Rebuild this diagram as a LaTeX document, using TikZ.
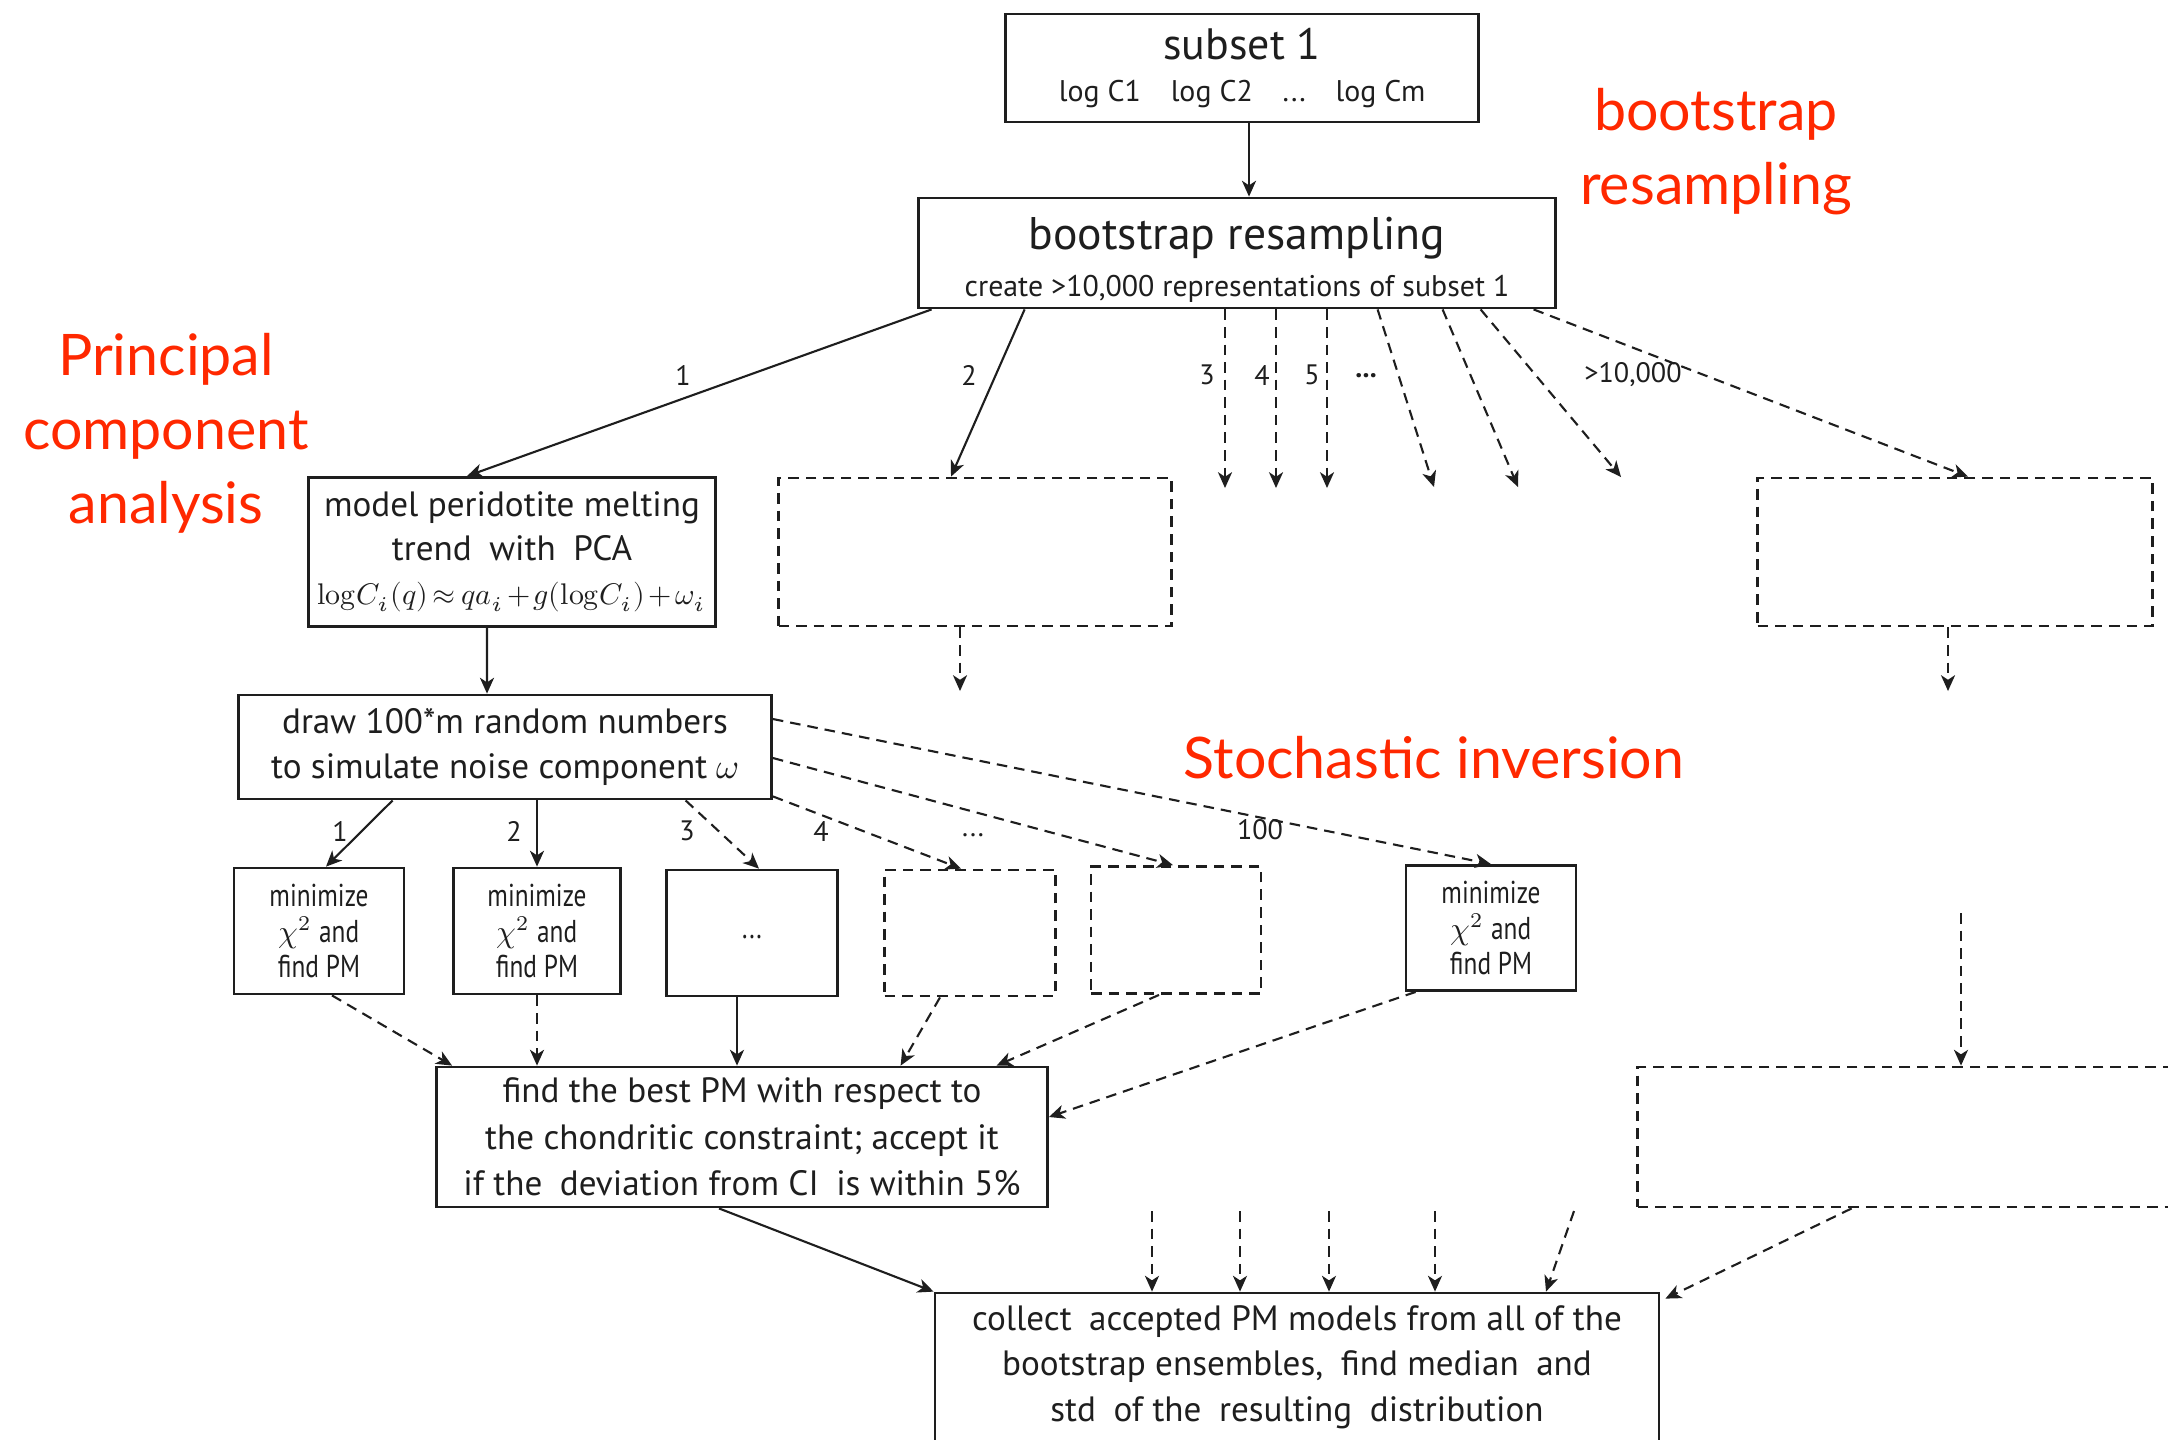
\documentclass[tikz,border=0pt]{standalone}
\usepackage{fontspec}
\usepackage{unicode-math}
\setmainfont{PT Sans}
\newfontfamily\narrowfont{PT Sans}[FakeStretch=0.8]
\newfontfamily\redfont{Lato}
\usetikzlibrary{arrows.meta}
\definecolor{ink}{RGB}{30,30,30}
\definecolor{labelred}{RGB}{255,40,0}

\begin{document}
\begin{tikzpicture}[
        box/.style     = {rectangle, draw = ink, line width = 0.8pt, text = ink, align = center, inner sep = 0pt},
        ghost/.style   = {box, dash pattern = on 3pt off 2pt},
        minbox/.style  = {box, font = \narrowfont\fontsize{9}{10}\selectfont, minimum width = 1.70cm, minimum height = 1.26cm},
        arr/.style     = {-{Stealth[length = 4.5pt, width = 4pt, inset = 1.3pt]}, line width = 0.6pt, draw = ink},
        darr/.style    = {arr, dash pattern = on 3pt off 2pt},
        num/.style     = {text = ink, inner sep = 0pt, font = \fontsize{8}{9}\selectfont},
        areaname/.style = {text = labelred, align = center, inner sep = 0pt, font = \redfont\fontsize{16.3}{21}\selectfont}
    ]
        \useasboundingbox (0,0) rectangle (21.68,-14.39);
        \clip (0,0) rectangle (21.68,-14.39);
        % ---------------------------------------------------------------------------
        % Draw nodes
        % ---------------------------------------------------------------------------
        \node[  box,
                font = \fontsize{8.5}{12}\selectfont,
                minimum width = 4.73cm,
                minimum height = 1.08cm]  (subset) at (12.42,-0.68) {{\fontsize{12.5}{12}\selectfont subset 1}\\ log C1\quad{}log C2\quad{}...\quad{}log Cm};

        \node[  box,
                font = \fontsize{8.5}{13.4}\selectfont,
                minimum width = 6.37cm,
                minimum height = 1.10cm]  (boot) at (12.37,-2.53) {{\fontsize{13}{13.4}\selectfont\rule{0pt}{13pt}bootstrap resampling}\\ create >10,000 representations of subset 1};

        \node[  box,
                font = \fontsize{10}{12.5}\selectfont,
                minimum width = 4.07cm,
                minimum height = 1.49cm]  (pca) at (5.12,-5.52) {model peridotite melting\\ trend\enspace with\enspace PCA\\ {\fontsize{8.5}{12.5}\selectfont\medmuskip=2mu\thickmuskip=3mu $\symup{log}C_i(q)\approx qa_i+\mathscr{g}(\symup{log}C_i)+\omega_i$}};

        \node[  ghost,
                minimum width = 3.93cm,
                minimum height = 1.48cm]  (bootB) at (9.75,-5.52) {};

        \node[  ghost,
                minimum width = 3.95cm,
                minimum height = 1.48cm]  (bootN) at (19.55,-5.52) {};

        \node[  box,
                font = \fontsize{10}{13}\selectfont,
                minimum width = 5.33cm,
                minimum height = 1.04cm]  (noise) at (5.05,-7.47) {draw 100*m random numbers\\ to simulate noise component $\omega$};

        \node[minbox, minimum width = 1.70cm]  (min1)   at (3.19,-9.31)  {minimize\\ $\chi^2$ and\\ find PM};
        \node[minbox, minimum width = 1.67cm]  (min2)   at (5.37,-9.31)  {minimize\\ $\chi^2$ and\\ find PM};
        \node[minbox, minimum width = 1.71cm]  (min3)   at (7.52,-9.33)  {\raisebox{-3pt}{...}};
        \node[  ghost,
                minimum width = 1.71cm,
                minimum height = 1.26cm]  (min4) at (9.70,-9.33) {};
        \node[  ghost,
                minimum width = 1.70cm,
                minimum height = 1.27cm]  (min5) at (11.76,-9.30) {};
        \node[minbox, minimum height = 1.25cm] (min100) at (14.91,-9.28) {minimize\\ $\chi^2$ and\\ find PM};

        \node[  box,
                font = \fontsize{10}{13.2}\selectfont,
                minimum width = 6.11cm,
                minimum height = 1.40cm]  (best) at (7.42,-11.37) {find the best PM with respect to\\ the chondritic constraint; accept it\\ if the\enspace deviation from CI\enspace is within 5\%};

        \node[  ghost,
                minimum width = 6.11cm,
                minimum height = 1.40cm]  (bootN2) at (19.43,-11.37) {};

        \node[  box,
                font = \fontsize{10}{13}\selectfont,
                minimum width = 7.24cm,
                minimum height = 1.48cm]  (collect) at (12.97,-13.67) {collect\enspace accepted PM models from all of the\\ bootstrap ensembles,\enspace find median\enspace and\\ std\enspace of the\enspace resulting\enspace distribution};

        % red area names
        \node[areaname] (bootname)  at (17.16,-1.52) {bootstrap\\ resampling};
        \node[areaname] (pcaname)   at (1.66,-4.33)  {Principal\\ component\\ analysis};
        \node[areaname] (stochname) at (14.34,-7.58) {Stochastic inversion};

        % ---------------------------------------------------------------------------
        % Draw arrows
        % ---------------------------------------------------------------------------
        \draw [arr]     ([xshift=0.07cm]subset.south)       -- ([xshift=0.07cm]subset.south |- boot.north);   % subset
        \draw [arr]     ([xshift=0.145cm]boot.south west)   -- ([xshift=-0.45cm]pca.north);     % 1
        \draw [arr]     ([xshift=1.075cm]boot.south west)   -- ([xshift=-0.24cm]bootB.north);   % 2
        \foreach \n/\x in {3/12.25, 4/12.76, 5/13.27} {
            \coordinate (tip\n) at (\x,-4.88);
            \draw [darr] (boot.south -| tip\n) -- (tip\n);
        }
        \foreach \n/\s/\x/\y in {6/4.605/14.34/-4.87, 7/5.255/15.18/-4.87, 8/5.635/16.21/-4.77} {
            \coordinate (tip\n) at (\x,\y);
            \draw [darr] ([xshift=\s cm]boot.south west) -- (tip\n);
        }
        \draw [darr]    ([xshift=6.165cm]boot.south west)   -- ([xshift=0.13cm]bootN.north);   % >10,000

        \coordinate (downB) at (9.60,-6.91);
        \coordinate (downN) at (19.48,-6.91);
        \draw [darr]    (bootB.south -| downB)              -- (downB);
        \draw [darr]    (bootN.south -| downN)              -- (downN);

        \draw [arr]     ([xshift=-0.25cm]pca.south)         -- ([xshift=-0.18cm]noise.north);  % PCA

        \draw [arr]     ([xshift=1.555cm]noise.south west)  -- ([xshift=0.07cm]min1.north);
        \draw [arr]     (noise.south -| min2.north)         -- (min2.north);
        \draw [darr]    ([xshift=4.485cm]noise.south west)  -- ([xshift=0.07cm]min3.north);
        \draw [darr]    ([yshift=0.04cm]noise.south east)   -- ([xshift=-0.09cm]min4.north);
        \draw [darr]    ([yshift=-0.11cm]noise.east)        -- ([xshift=-0.03cm]min5.north);
        \draw [darr]    ([yshift=0.28cm]noise.east)         -- (min100.north);

        \draw [darr]    ([xshift=0.13cm]min1.south)         -- ([xshift=0.17cm]best.north west);
        \draw [darr]    (min2.south)                        -- (min2.south |- best.north);
        \draw [arr]     ([xshift=-0.15cm]min3.south)        -- ([xshift=-0.15cm]min3.south |- best.north);
        \draw [darr]    ([xshift=-0.30cm]min4.south)        -- ([xshift=4.655cm]best.north west);
        \draw [darr]    ([xshift=-0.17cm]min5.south)        -- ([xshift=5.615cm]best.north west);
        \draw [darr]    ([xshift=0.11cm]min100.south west)  -- ([yshift=0.20cm]best.east);

        \coordinate (fromN) at (19.61,-9.13);
        \draw [darr]    (fromN)                             -- (fromN |- bootN2.north);

        \draw [arr]     ([xshift=-0.23cm]best.south)        -- (collect.north west);           % accepted
        \foreach \n/\x in {1/11.52, 2/12.40, 3/13.29, 4/14.35} {
            \coordinate (src\n) at (\x,-12.11);
            \draw [darr] (src\n) -- (src\n |- collect.north);
        }
        \coordinate (src5) at (15.74,-12.11);
        \draw [darr]    (src5)                              -- ([xshift=2.49cm]collect.north);
        \draw [darr]    ([xshift=2.155cm]bootN2.south west) -- ([xshift=0.05cm, yshift=-0.07cm]collect.north east);

        % ---------------------------------------------------------------------------
        % Arrow labels
        % ---------------------------------------------------------------------------
        \node[num] (l1)   at (6.83,-3.75)  {1};
        \node[num] (l2)   at (9.69,-3.75)  {2};
        \node[num] (l3)   at (12.07,-3.75) {3};
        \node[num] (l4)   at (12.62,-3.75) {4};
        \node[num] (l5)   at (13.12,-3.75) {5};
        \node[num] (ldot) at (13.66,-3.76) {\textbf{...}};
        \node[num] (lN)   at (16.33,-3.75) {>10,000};

        \node[num] (k1)   at (3.40,-8.31)  {1};
        \node[num] (k2)   at (5.14,-8.31)  {2};
        \node[num] (k3)   at (6.87,-8.31)  {3};
        \node[num] (k4)   at (8.21,-8.31)  {4};
        \node[num] (kdot) at (9.73,-8.35)  {...};
        \node[num] (k100) at (12.60,-8.30) {100};
\end{tikzpicture}
\end{document}
